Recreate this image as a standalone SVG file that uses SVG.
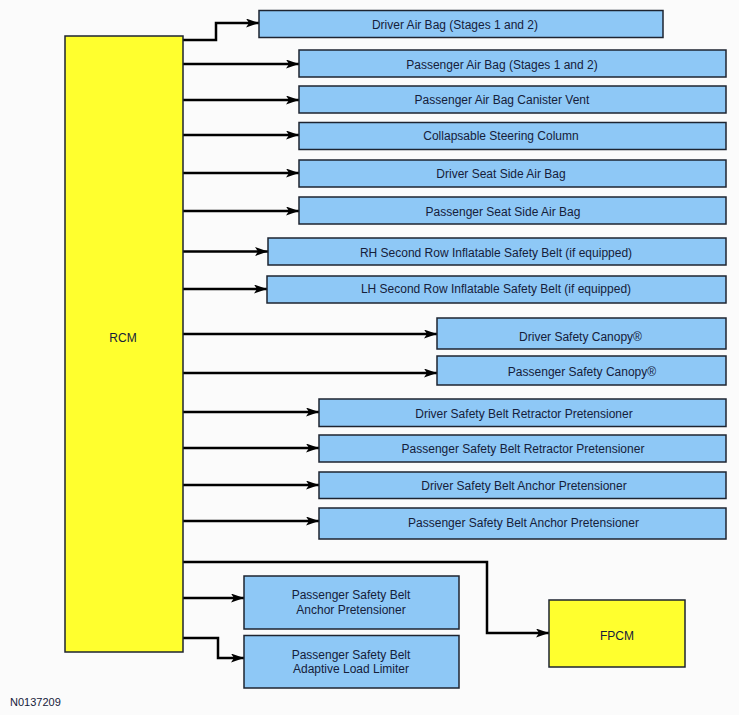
<svg xmlns="http://www.w3.org/2000/svg" width="739" height="715" viewBox="0 0 739 715">
<defs>
<style>
.box{fill:#8ec8f6;stroke:#1e2430;stroke-width:1.5}
.ybox{fill:#ffff2e;stroke:#1e2430;stroke-width:1.5}
.t{font-family:"Liberation Sans",Arial,sans-serif;font-size:12px;fill:#15203a;text-anchor:middle}
.c{fill:none;stroke:#000;stroke-width:2.5;marker-end:url(#ah)}
</style>
<marker id="ah" markerUnits="userSpaceOnUse" markerWidth="14" markerHeight="10" refX="13" refY="4.5" orient="auto">
<path d="M0,0 L13,4.5 L0,9 L3,4.5 z" fill="#000"/>
</marker>
</defs>
<rect width="739" height="715" fill="#fbfbfb"/>
<g id="connectors">
<path class="c" d="M183,40 H216 V23 H259"/>
<path class="c" d="M183,64 H299"/>
<path class="c" d="M183,100 H299"/>
<path class="c" d="M183,135 H299"/>
<path class="c" d="M183,173 H299"/>
<path class="c" d="M183,211 H299"/>
<path class="c" d="M183,251.5 H268"/>
<path class="c" d="M183,289 H267"/>
<path class="c" d="M183,334 H437"/>
<path class="c" d="M183,373 H437"/>
<path class="c" d="M183,412 H319"/>
<path class="c" d="M183,448 H319"/>
<path class="c" d="M183,485 H319"/>
<path class="c" d="M183,521 H319"/>
<path class="c" d="M183,562 H487 V633 H549"/>
<path class="c" d="M183,598 H244"/>
<path class="c" d="M183,638 H218 V658 H244"/>
</g>
<g id="rcm"><rect class="ybox" x="65" y="36" width="118" height="616"/><text class="t" x="123" y="341.5">RCM</text></g>
<g id="n1"><rect class="box" x="259" y="10.5" width="404" height="27"/><text class="t" x="455" y="29">Driver Air Bag (Stages 1 and 2)</text></g>
<g id="n2"><rect class="box" x="299" y="50" width="427" height="27"/><text class="t" x="502" y="69">Passenger Air Bag (Stages 1 and 2)</text></g>
<g id="n3"><rect class="box" x="299" y="86" width="427" height="27"/><text class="t" x="502" y="104.3">Passenger Air Bag Canister Vent</text></g>
<g id="n4"><rect class="box" x="299" y="122.5" width="427" height="27"/><text class="t" x="501" y="140">Collapsable Steering Column</text></g>
<g id="n5"><rect class="box" x="299" y="160" width="427" height="27"/><text class="t" x="501" y="178.3">Driver Seat Side Air Bag</text></g>
<g id="n6"><rect class="box" x="299" y="197" width="427" height="27"/><text class="t" x="503" y="216">Passenger Seat Side Air Bag</text></g>
<g id="n7"><rect class="box" x="268" y="238" width="458" height="27"/><text class="t" x="496" y="256.5">RH Second Row Inflatable Safety Belt (if equipped)</text></g>
<g id="n8"><rect class="box" x="267" y="276" width="459" height="27"/><text class="t" x="496" y="293">LH Second Row Inflatable Safety Belt (if equipped)</text></g>
<g id="n9"><rect class="box" x="437" y="318" width="289" height="31"/><text class="t" x="580.5" y="340.5">Driver Safety Canopy®</text></g>
<g id="n10"><rect class="box" x="437" y="356" width="289" height="29"/><text class="t" x="582" y="376">Passenger Safety Canopy®</text></g>
<g id="n11"><rect class="box" x="319" y="399" width="407" height="27.5"/><text class="t" x="524" y="417.5">Driver Safety Belt Retractor Pretensioner</text></g>
<g id="n12"><rect class="box" x="319" y="435" width="407" height="27"/><text class="t" x="523" y="453">Passenger Safety Belt Retractor Pretensioner</text></g>
<g id="n13"><rect class="box" x="319" y="472" width="407" height="26.5"/><text class="t" x="524" y="490">Driver Safety Belt Anchor Pretensioner</text></g>
<g id="n14"><rect class="box" x="319" y="508" width="407" height="31"/><text class="t" x="523.5" y="527">Passenger Safety Belt Anchor Pretensioner</text></g>
<g id="n15"><rect class="box" x="244" y="576" width="215" height="53"/><text class="t" x="351" y="598.5">Passenger Safety Belt</text><text class="t" x="351" y="613.5">Anchor Pretensioner</text></g>
<g id="n16"><rect class="box" x="244" y="635.5" width="215" height="52.5"/><text class="t" x="351" y="658.5">Passenger Safety Belt</text><text class="t" x="351" y="673">Adaptive Load Limiter</text></g>
<g id="fpcm"><rect class="ybox" x="549" y="600" width="136" height="67"/><text class="t" x="617" y="640">FPCM</text></g>
<text x="10" y="706" style="font-family:'Liberation Sans',Arial,sans-serif;font-size:11px;fill:#15203a">N0137209</text>
</svg>
